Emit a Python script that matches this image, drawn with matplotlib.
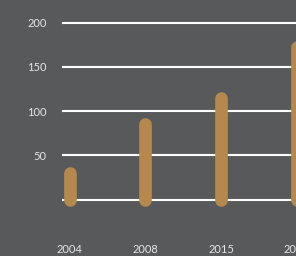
import matplotlib
matplotlib.use("Agg")
import matplotlib.pyplot as plt

years = ["2004", "2008", "2015", "2020"]
values = [30, 85, 115, 172]
ytick_vals = [0, 50, 100, 150, 200]
ytick_labels = ["", "50", "100", "150", "200"]

bg = "#58595b"
bar_color = "#b5894d"
text_color = "#e6e6e6"

fig = plt.figure(figsize=(2.96, 2.56), dpi=100, facecolor=bg)
W, H = 296, 256
left_px, right_lim, left_lim = 63.3, 4.0, -0.085
unit_px = 75.7
ax = fig.add_axes([left_px / W, 56.3 / H, (right_lim - left_lim) * unit_px / W, 177 / H])
ax.set_facecolor(bg)
ax.set_xlim(left_lim, right_lim)
ax.set_ylim(0, 200)

for v in ytick_vals:
    ax.axhline(v, color="white", linewidth=1.5, zorder=1, clip_on=False)

xs = list(range(len(years)))
ax.vlines(xs, 0, values, colors=bar_color, linewidth=9.1, capstyle="round", zorder=3, clip_on=False)

for s in ax.spines.values():
    s.set_visible(False)
ax.set_yticks(ytick_vals)
ax.set_yticklabels(ytick_labels, fontfamily="Lato", fontsize=8, color=text_color)
ax.set_xticks(xs)
ax.set_xticklabels(years, fontfamily="Lato", fontsize=8, color=text_color)
ax.tick_params(axis="y", length=0, pad=12)
ax.tick_params(axis="x", length=0, pad=32)

fig.savefig("out.png", dpi=100, facecolor=bg)
